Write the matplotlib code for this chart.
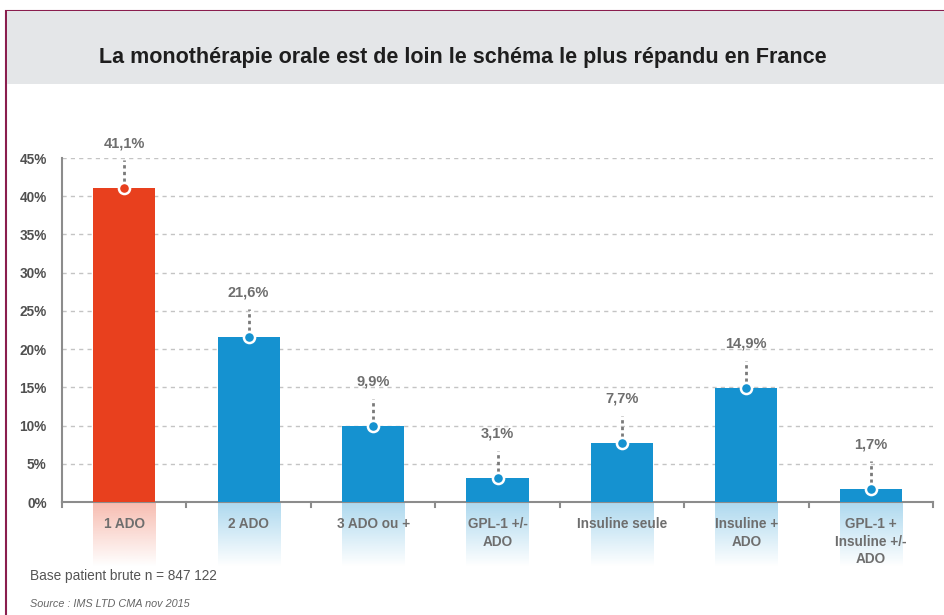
import numpy as np
import matplotlib.pyplot as plt
from matplotlib.patches import Rectangle
from matplotlib.colors import to_rgb

plt.rcParams['font.family'] = ['Liberation Sans', 'DejaVu Sans']

categories = ['1 ADO', '2 ADO', '3 ADO ou +', 'GPL-1 +/-\nADO', 'Insuline seule',
              'Insuline +\nADO', 'GPL-1 +\nInsuline +/-\nADO']
values = [41.1, 21.6, 9.9, 3.1, 7.7, 14.9, 1.7]
value_labels = ['41,1%', '21,6%', '9,9%', '3,1%', '7,7%', '14,9%', '1,7%']
yticks = [0, 5, 10, 15, 20, 25, 30, 35, 40, 45]

red = '#E8401E'
blue = '#1592D0'
colors = [red] + [blue] * 6
grey_txt = '#6E6E6E'

fig = plt.figure(figsize=(9.44, 6.15), dpi=100)

# frame and header band (kept behind the axes)
fig.patches.append(Rectangle((6 / 944, -0.1), 1, 1.1 - 11 / 615, transform=fig.transFigure,
                             facecolor='white', edgecolor='#8A1E4E', lw=1.5, zorder=-2))
fig.patches.append(Rectangle((7 / 944, 1 - 84 / 615), 1, 73 / 615, transform=fig.transFigure,
                             facecolor='#E4E6E8', edgecolor='none', zorder=-1))
fig.text(463 / 944, 1 - 57 / 615, 'La monothérapie orale est de loin le schéma le plus répandu en France',
         ha='center', va='center', fontsize=15.5, fontweight='bold', color='#1E1E1E')

ax = fig.add_axes([62 / 944, 1 - 502 / 615, 871 / 944, 344 / 615])
ax.patch.set_alpha(0)
x = np.arange(len(categories))
ax.bar(x, values, width=0.5, color=colors, zorder=3)

# faded reflection under each bar
grad = np.linspace(0.35, 0.0, 64)
for xi, c in zip(x, colors):
    rgba = np.zeros((64, 1, 4))
    rgba[:, 0, :3] = to_rgb(c)
    rgba[:, 0, 3] = grad
    ax.imshow(rgba, extent=(xi - 0.25, xi + 0.25, -8.5, 0), aspect='auto',
              clip_on=False, zorder=1, interpolation='bilinear')
ax.set_xlim(-0.5, len(categories) - 0.5)
ax.set_ylim(0, 45)

# value markers and labels
for xi, v, lab, c in zip(x, values, value_labels, colors):
    ax.plot([xi, xi], [v, v + 3.6], ls=(0, (1.2, 1.2)), color='#7A7A7A', lw=2, zorder=4,
            clip_on=False)
    ax.plot(xi, v, 'o', ms=8, mfc=c, mec='white', mew=1.8, zorder=5, clip_on=False)
    ax.annotate(lab, (xi, v), xytext=(0, 32), textcoords='offset points', ha='center',
                va='center', fontsize=10.5, fontweight='bold', color=grey_txt)

for t in yticks[1:]:
    ax.axhline(t, color='#C4C4C4', lw=1, ls=(0, (3, 3)), zorder=0)

ax.set_yticks(yticks)
ax.set_yticklabels([f'{t}%' for t in yticks])
ax.set_xticks(x)
ax.set_xticklabels(categories, fontsize=9.8, fontweight='bold', color=grey_txt,
                   linespacing=1.3, va='top')
ax.tick_params(axis='x', length=0, pad=11)
ax.tick_params(axis='y', length=0, pad=11, labelsize=9.8, labelcolor='#505050')
for lab in ax.get_yticklabels():
    lab.set_fontweight('bold')

# category boundary ticks on the base line
for b in np.arange(-0.5, len(categories), 1.0):
    ax.plot([b, b], [0, -0.6], color='#8C8C8C', lw=1.5, clip_on=False, zorder=3)

for s in ['top', 'right']:
    ax.spines[s].set_visible(False)
ax.spines['left'].set_color('#8C8C8C')
ax.spines['bottom'].set_color('#8C8C8C')
ax.spines['left'].set_linewidth(1.5)
ax.spines['bottom'].set_linewidth(1.5)

fig.text(30 / 944, 1 - 576 / 615, 'Base patient brute n = 847 122', fontsize=9.8,
         color='#555555', va='center')
fig.text(30 / 944, 1 - 604 / 615, 'Source : IMS LTD CMA nov 2015', fontsize=7.8,
         style='italic', color='#666666', va='center')

fig.savefig('out.png', dpi=100)
